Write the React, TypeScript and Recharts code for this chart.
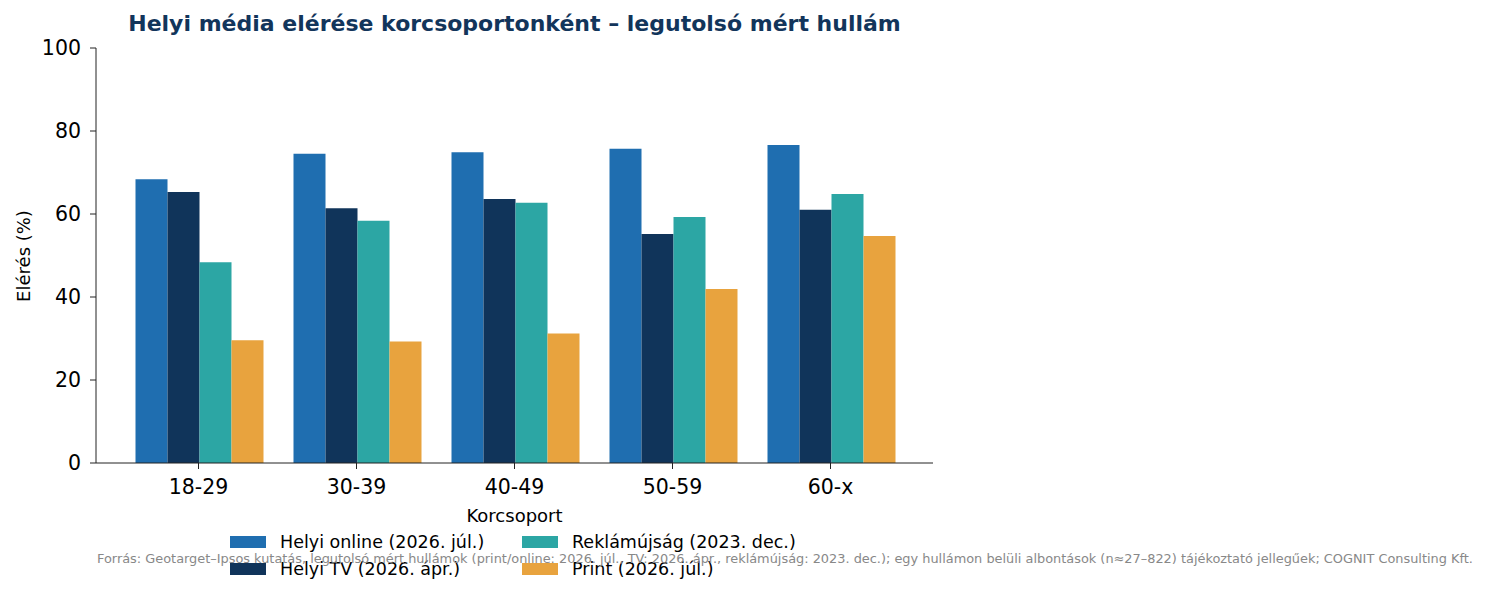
import { BarChart, Bar, XAxis, YAxis } from "recharts";

const ageGroups = ["18-29", "30-39", "40-49", "50-59", "60-x"];
const onlineValues = [68.4, 74.5, 74.9, 75.7, 76.6];
const tvValues = [65.3, 61.4, 63.6, 55.2, 61.0];
const adPaperValues = [48.4, 58.4, 62.7, 59.3, 64.8];
const printValues = [29.6, 29.3, 31.2, 41.9, 54.7];
const yTicks = [0, 20, 40, 60, 80, 100];

const series = [
  { key: "online", name: "Helyi online (2026. júl.)", color: "#1f6eb0" },
  { key: "tv", name: "Helyi TV (2026. ápr.)", color: "#10345a" },
  { key: "adPaper", name: "Reklámújság (2023. dec.)", color: "#2ca6a4" },
  { key: "print", name: "Print (2026. júl.)", color: "#e8a33e" },
];

const data = ageGroups.map((g, i) => ({
  group: g,
  online: onlineValues[i],
  tv: tvValues[i],
  adPaper: adPaperValues[i],
  print: printValues[i],
}));

const font = "'DejaVu Sans', sans-serif";
const axisColor = "#222";

// legend order follows matplotlib's column-first layout
const legendSlots = [
  { s: series[0], left: 230, top: 536 },
  { s: series[1], left: 230, top: 563 },
  { s: series[2], left: 522, top: 536 },
  { s: series[3], left: 522, top: 563 },
];

export default function App() {
  return (
    <div
      style={{
        position: "absolute",
        left: 0,
        top: 0,
        width: 1493,
        height: 601,
        background: "#fff",
        fontFamily: font,
      }}
    >
      <div
        style={{
          position: "absolute",
          left: 96,
          width: 837,
          top: 11,
          textAlign: "center",
          fontWeight: "bold",
          fontSize: 22,
          color: "#12355b",
        }}
      >
        Helyi média elérése korcsoportonként – legutolsó mért hullám
      </div>

      <BarChart
        width={1493}
        height={601}
        data={data}
        margin={{ top: 48, right: 560, bottom: 108, left: 36 }}
        barCategoryGap={16}
        barGap={0}
      >
        <XAxis
          dataKey="group"
          height={30}
          padding={{ left: 23.5, right: 23.5 }}
          tickSize={6}
          tickMargin={10}
          stroke={axisColor}
          tick={{ fill: "#000", fontSize: 20.5, fontFamily: font }}
        />
        <YAxis
          width={60}
          domain={[0, 100]}
          ticks={yTicks}
          tickSize={6}
          tickMargin={9}
          stroke={axisColor}
          tick={{ fill: "#000", fontSize: 20.5, fontFamily: font }}
        />
        {series.map((s) => (
          <Bar
            key={s.key}
            dataKey={s.key}
            name={s.name}
            fill={s.color}
            isAnimationActive={false}
          />
        ))}
      </BarChart>

      <div
        style={{
          position: "absolute",
          left: 96,
          width: 837,
          top: 505,
          textAlign: "center",
          fontSize: 18,
          color: "#000",
        }}
      >
        Korcsoport
      </div>

      <div
        style={{
          position: "absolute",
          left: 23,
          top: 256,
          transform: "translate(-50%, -50%) rotate(-90deg)",
          fontSize: 18,
          whiteSpace: "nowrap",
          color: "#000",
        }}
      >
        Elérés (%)
      </div>

      {legendSlots.map(({ s, left, top }) => (
        <div
          key={s.key}
          style={{
            position: "absolute",
            left,
            top,
            display: "flex",
            alignItems: "center",
            height: 12,
          }}
        >
          <div style={{ width: 36, height: 12, background: s.color }} />
          <span
            style={{
              marginLeft: 14,
              fontSize: 17.5,
              whiteSpace: "nowrap",
              color: "#000",
            }}
          >
            {s.name}
          </span>
        </div>
      ))}

      <div
        style={{
          position: "absolute",
          left: 97,
          top: 551,
          fontSize: 12.9,
          color: "#888",
          whiteSpace: "nowrap",
        }}
      >
        Forrás: Geotarget–Ipsos kutatás, legutolsó mért hullámok (print/online: 2026. júl., TV: 2026. ápr., reklámújság: 2023. dec.); egy hullámon belüli albontások (n≈27–822) tájékoztató jellegűek; COGNIT Consulting Kft.
      </div>
    </div>
  );
}
